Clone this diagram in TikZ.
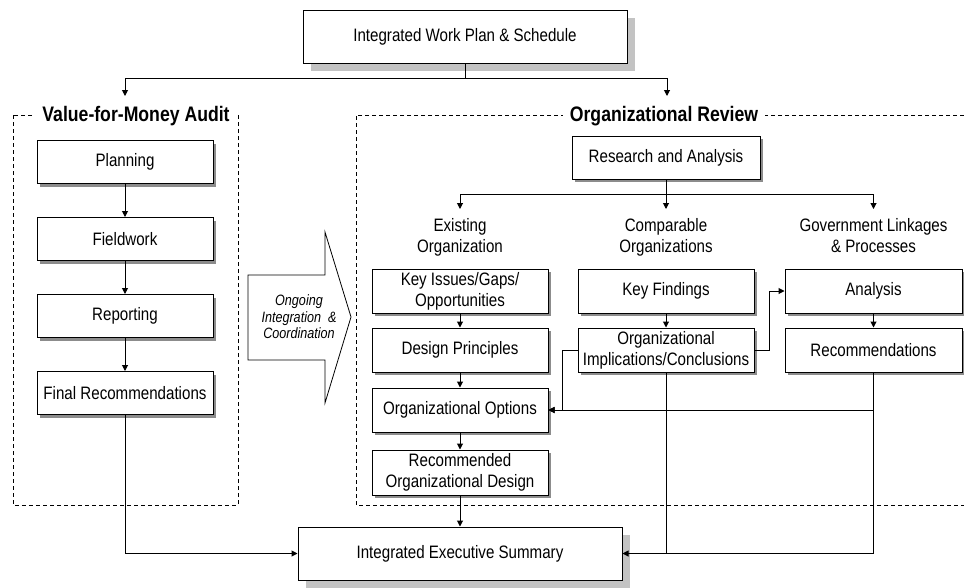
\documentclass[tikz,border=0pt]{standalone}
\usepackage{fontspec}
\setmainfont{Liberation Sans}[FakeStretch=0.84]
\usetikzlibrary{arrows.meta,positioning,shadows}
\definecolor{shadowgray}{RGB}{140,140,140}
\definecolor{gridgray}{RGB}{195,195,195}

\begin{document}
\begin{tikzpicture}[x=1pt,y=-1pt,>={Triangle[length=6pt,width=6pt]},
  boxbase/.style={draw,line width=1pt,fill=white,align=center,inner sep=2pt,
    font=\fontsize{18}{21}\selectfont},
  taskbox/.style={boxbase,minimum width=176pt,minimum height=44pt,
    drop shadow={shadow xshift=3pt,shadow yshift=-3pt,fill=shadowgray,opacity=1}},
  mainbox/.style={boxbase,minimum width=324pt,minimum height=53pt,
    drop shadow={shadow xshift=8pt,shadow yshift=-8pt,fill=gridgray,opacity=1}},
  grouplabel/.style={align=center,anchor=north,inner xsep=2pt,inner ysep=9pt,
    font=\fontsize{18}{21}\selectfont},
  sectiontitle/.style={fill=white,inner xsep=7pt,inner ysep=1pt,
    font=\fontsize{21}{24}\selectfont\bfseries},
  frame/.style={dash pattern=on 4pt off 3pt,line width=0.8pt},
  arrow/.style={->,line width=1pt}]
\useasboundingbox (0,0) rectangle (964,587);

\node[mainbox] (workplan) at (465,36.5) {Integrated Work Plan \& Schedule};

% dashed frames
\draw[frame] (13,115) rectangle (238,505);
\draw[frame] (964,115) -- (356,115) -- (356,505) -- (964,505);
\node[sectiontitle] (vfm) at (136,116) {Value-for-Money Audit};
\node[sectiontitle] (orgrev) at (664,116) {Organizational Review};

% audit column
\node[taskbox,minimum height=43pt] (planning) at (125,162) {Planning};
\node[taskbox,minimum height=43pt,below=33pt of planning] (fieldwork) {Fieldwork};
\node[taskbox,minimum height=43pt,below=33pt of fieldwork] (reporting) {Reporting};
\node[taskbox,minimum height=43pt,below=33pt of reporting] (finalrec) {Final Recommendations};

% review
\node[taskbox,minimum width=188pt,minimum height=43pt] (research) at (666,157.5) {Research and Analysis};
\node[grouplabel] (existing) at (460,209) {Existing\\Organization};
\node[grouplabel] (comparable) at (666,209) {Comparable\\Organizations};
\node[grouplabel] (govt) at (873.5,209) {Government Linkages\\\& Processes};
\node[taskbox] (keyissues) at (460,291) {Key Issues/Gaps/\\Opportunities};
\node[taskbox] (keyfind) at (666,291) {Key Findings};
\node[taskbox,minimum width=177pt] (analysis) at (873.5,291) {Analysis};
\node[taskbox,below=14pt of keyissues] (design) {Design Principles};
\node[taskbox,below=14pt of keyfind] (implic) {Organizational\\Implications/Conclusions};
\node[taskbox,minimum width=177pt,below=14pt of analysis] (recs) {Recommendations};
\node[taskbox,below=15pt of design] (options) {Organizational Options};
\node[taskbox,minimum height=45pt,below=17pt of options] (recdesign) {Recommended\\Organizational Design};

\node[mainbox] (summary) at (460,553.5) {Integrated Executive Summary};

% coordination arrow
\draw[line width=0.8pt,fill=white] (248,275) -- (325,275) -- (325,232) -- (351,317)
  -- (325,403) -- (325,360) -- (248,360) -- cycle;
\node[font=\fontsize{15}{16.5}\selectfont\itshape,align=center] (ongoing) at (299,317)
  {Ongoing\\Integration~~\&\\Coordination};

% connectors
\coordinate (split) at (465,78);
\coordinate (vfmin) at (125,96);
\coordinate (orgin) at (667,96);
\draw[line width=1pt] (workplan.south) -- (split);
\draw[arrow] (split) -| (vfmin);
\draw[arrow] (split) -| (orgin);

\draw[arrow] (planning) -- (fieldwork);
\draw[arrow] (fieldwork) -- (reporting);
\draw[arrow] (reporting) -- (finalrec);
\draw[arrow] (finalrec.south) |- (summary.west);

\coordinate (branch) at (666,194);
\draw[line width=1pt] (research.south) -- (branch);
\draw[arrow] (branch) -| (existing.north);
\draw[arrow] (branch) -- (comparable.north);
\draw[arrow] (branch) -| (govt.north);

\draw[arrow] (keyissues) -- (design);
\draw[arrow] (design) -- (options);
\draw[arrow] (options) -- (recdesign);
\draw[arrow] (recdesign) -- (summary);
\draw[arrow] (keyfind) -- (implic);
\draw[arrow] (analysis) -- (recs);
\draw[arrow] (implic.west) -- ++(-15,0) |- (options.east);
\draw[arrow] (implic.east) -- ++(15,0) |- (analysis.west);
\draw[arrow] (recs.south) |- (options.east);
\draw[arrow] (recs.south) |- (summary.east);
\draw[line width=1pt] (implic.south) -- (implic.south |- summary.east);
\end{tikzpicture}
\end{document}
